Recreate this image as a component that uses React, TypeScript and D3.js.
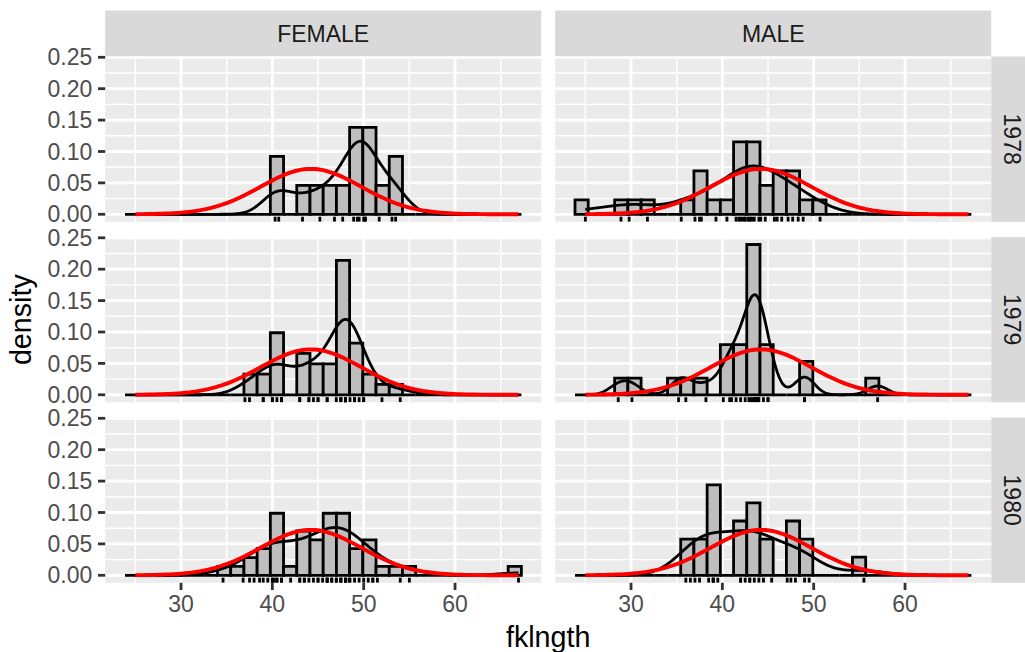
import React from "react";
import * as d3 from "d3";

const sexLabels = ["FEMALE", "MALE"];
const yearLabels = ["1978", "1979", "1980"];

const female1978 = [40.3, 40.7, 43.3, 45.2, 46.8, 47.7, 48.9, 49.3, 49.5, 50.0, 50.1, 50.2, 51.7, 53.1, 53.5];
const male1978 = [25.0, 28.9, 29.8, 31.8, 35.5, 37.0, 37.5, 37.7, 39.3, 40.5, 41.5, 41.8, 42.0, 42.3, 42.5, 42.8, 43.0, 43.2, 43.5, 44.0, 44.2, 44.7, 45.7, 46.0, 46.5, 47.2, 47.7, 48.3, 48.85, 50.7];
const female1979 = [37.0, 37.5, 39.0, 39.0, 40.0, 40.0, 40.5, 41.0, 41.0, 41.0, 43.0, 43.0, 44.0, 44.0, 44.5, 45.0, 45.0, 46.0, 46.0, 47.0, 47.5, 47.5, 47.5, 48.0, 48.0, 48.0, 48.0, 48.0, 48.0, 48.0, 48.0, 48.0, 48.0, 48.5, 49.0, 49.0, 49.0, 49.5, 50.0, 50.0, 52.0, 54.0];
const male1979 = [28.6, 30.1, 35.2, 36.0, 38.2, 40.1, 40.8, 41.0, 41.5, 42.0, 42.5, 42.9, 43.1, 43.3, 43.5, 43.6, 43.7, 43.8, 43.9, 44.0, 44.5, 45.0, 45.0, 49.0, 49.0, 57.0];
const female1980 = [34.6, 36.8, 37.5, 38.0, 38.6, 39.0, 39.5, 40.0, 40.0, 40.2, 40.5, 40.5, 41.0, 41.0, 42.0, 43.0, 43.0, 43.5, 43.5, 44.0, 44.5, 45.0, 45.0, 45.5, 46.0, 46.0, 46.0, 46.5, 46.5, 47.0, 47.0, 47.5, 47.5, 47.5, 48.0, 48.0, 48.0, 48.4, 48.5, 49.0, 49.5, 50.0, 50.5, 51.0, 51.0, 51.5, 54.0, 55.0, 66.95];
const male1980 = [36.0, 36.5, 37.0, 37.5, 38.5, 39.0, 39.0, 39.0, 39.5, 42.0, 42.0, 42.5, 43.0, 43.0, 43.5, 44.0, 44.5, 45.4, 47.1, 47.5, 48.0, 49.0, 49.5, 55.5];

const xMajor = [30, 40, 50, 60];
const xMinor = [25, 35, 45, 55, 65];
const yMajor = [0, 0.05, 0.1, 0.15, 0.2, 0.25];
const yMinor = [0.025, 0.075, 0.125, 0.175, 0.225];

const BINS = 30;
const KDE_N = 512;
const NORM_N = 101;

const LEFT = [105.2, 555.2];
const PW = 436;
const TOP = [56.5, 237, 417.5];
const PH = 165.3;
const STRIP = 46;
const K = 23 / 8.8; // px per pt
const LW = 1.07 * K;
const FONT = "'Liberation Sans', Arial, Helvetica, sans-serif";

function bwNrd0(x: number[]) {
  const s = [...x].sort((a, b) => a - b);
  const sd = d3.deviation(s) as number;
  const iqr = (d3.quantileSorted(s, 0.75) as number) - (d3.quantileSorted(s, 0.25) as number);
  let lo = Math.min(sd, iqr / 1.34);
  if (!(lo > 0)) lo = sd || Math.abs(s[0]) || 1;
  return 0.9 * lo * Math.pow(s.length, -0.2);
}

export default function App() {
  const panels = [
    [female1978, male1978],
    [female1979, male1979],
    [female1980, male1980],
  ];
  const all = panels.flat(2);
  const [mn, mx] = d3.extent(all) as [number, number];
  const w = (mx - mn) / (BINS - 1);
  const boundary = w / 2;
  const origin = boundary + Math.floor((mn - boundary) / w) * w;
  const edges = d3.range(BINS + 1).map((k) => origin + k * w);
  const mu = d3.mean(all) as number;
  const sigma = d3.deviation(all) as number;
  const dnorm = (x: number) => Math.exp(-0.5 * ((x - mu) / sigma) ** 2) / (sigma * Math.sqrt(2 * Math.PI));
  const normPts: [number, number][] = d3.range(NORM_N).map((i) => {
    const x = mn + (i * (mx - mn)) / (NORM_N - 1);
    return [x, dnorm(x)];
  });

  const binner = d3.bin().domain([edges[0], edges[BINS]]).thresholds(edges.slice(1, BINS));

  const stats = panels.map((row) =>
    row.map((vals) => {
      const n = vals.length;
      const bins = binner(vals).map((b) => ({ x0: b.x0 as number, x1: b.x1 as number, d: b.length / (n * w) }));
      const bw = bwNrd0(vals);
      const kde: [number, number][] = d3.range(KDE_N).map((i) => {
        const x = mn + (i * (mx - mn)) / (KDE_N - 1);
        let s = 0;
        for (const v of vals) s += Math.exp(-0.5 * ((x - v) / bw) ** 2);
        return [x, s / (n * bw * Math.sqrt(2 * Math.PI))];
      });
      return { vals, bins, kde };
    })
  );

  const yMax = Math.max(
    d3.max(stats.flat(), (p) => d3.max(p.bins, (b) => b.d) as number) as number,
    d3.max(stats.flat(), (p) => d3.max(p.kde, (k) => k[1]) as number) as number,
    d3.max(normPts, (p) => p[1]) as number
  );
  const xSpan = edges[BINS] - edges[0];
  const xDomain = [edges[0] - 0.05 * xSpan, edges[BINS] + 0.05 * xSpan];
  const yDomain = [-0.05 * yMax, 1.05 * yMax];

  const xs = LEFT.map((l) => d3.scaleLinear().domain(xDomain).range([l, l + PW]));
  const ys = TOP.map((t) => d3.scaleLinear().domain(yDomain).range([t + PH, t]));

  const tickLen = 2.75 * K;

  return (
    <svg
      width={1025}
      height={652}
      style={{ position: "absolute", left: 0, top: 0 }}
      fontFamily={FONT}
    >
      <rect x={0} y={0} width={1025} height={652} fill="#FFFFFF" />
      <defs>
        {TOP.map((t, r) =>
          LEFT.map((l, c) => (
            <clipPath id={`clip-${r}-${c}`} key={`cp-${r}-${c}`}>
              <rect x={l} y={t} width={PW} height={PH} />
            </clipPath>
          ))
        )}
      </defs>

      {/* top strips */}
      {LEFT.map((l, c) => (
        <g key={`ts-${c}`}>
          <rect x={l} y={TOP[0] - STRIP} width={PW} height={STRIP} fill="#D9D9D9" />
          <text x={l + PW / 2} y={TOP[0] - STRIP / 2 + 8.2} textAnchor="middle" fontSize={23} fill="#1A1A1A">
            {sexLabels[c]}
          </text>
        </g>
      ))}

      {/* right strips */}
      {TOP.map((t, r) => (
        <g key={`rs-${r}`}>
          <rect x={LEFT[1] + PW} y={t} width={STRIP} height={PH} fill="#D9D9D9" />
          <text
            transform={`translate(${LEFT[1] + PW + STRIP / 2 - 9.8},${t + PH / 2}) rotate(90)`}
            textAnchor="middle"
            fontSize={23}
            fill="#1A1A1A"
          >
            {yearLabels[r]}
          </text>
        </g>
      ))}

      {stats.map((row, r) =>
        row.map((p, c) => {
          const x = xs[c];
          const y = ys[r];
          const line = d3
            .line<[number, number]>()
            .x((d) => x(d[0]))
            .y((d) => y(d[1]));
          const t = TOP[r];
          const l = LEFT[c];
          return (
            <g key={`p-${r}-${c}`}>
              <rect x={l} y={t} width={PW} height={PH} fill="#EBEBEB" />
              <g clipPath={`url(#clip-${r}-${c})`}>
                {xMinor.map((v) => (
                  <line key={`xm${v}`} x1={x(v)} x2={x(v)} y1={t} y2={t + PH} stroke="#FFFFFF" strokeWidth={LW / 2} />
                ))}
                {yMinor.map((v) => (
                  <line key={`ym${v}`} x1={l} x2={l + PW} y1={y(v)} y2={y(v)} stroke="#FFFFFF" strokeWidth={LW / 2} />
                ))}
                {xMajor.map((v) => (
                  <line key={`xM${v}`} x1={x(v)} x2={x(v)} y1={t} y2={t + PH} stroke="#FFFFFF" strokeWidth={LW} />
                ))}
                {yMajor.map((v) => (
                  <line key={`yM${v}`} x1={l} x2={l + PW} y1={y(v)} y2={y(v)} stroke="#FFFFFF" strokeWidth={LW} />
                ))}
                {p.bins.map((b, i) => (
                  <path
                    key={`b${i}`}
                    d={`M${x(b.x0)},${y(0)}V${y(b.d)}H${x(b.x1)}V${y(0)}Z`}
                    fill="#BEBEBE"
                    stroke="#000000"
                    strokeWidth={LW}
                    strokeLinejoin="miter"
                  />
                ))}
                {p.vals.map((v, i) => (
                  <line
                    key={`r${i}`}
                    x1={x(v)}
                    x2={x(v)}
                    y1={t + PH}
                    y2={t + PH - 0.03 * PH}
                    stroke="#000000"
                    strokeWidth={LW}
                  />
                ))}
                <path d={line(p.kde) as string} fill="none" stroke="#000000" strokeWidth={LW} />
                <path d={line(normPts) as string} fill="none" stroke="#FF0000" strokeWidth={LW * 1.4} />
              </g>
            </g>
          );
        })
      )}

      {/* y axes */}
      {TOP.map((t, r) => (
        <g key={`ya-${r}`}>
          {yMajor.map((v, i) => (
            <g key={`yt${i}`}>
              <line x1={LEFT[0] - tickLen} x2={LEFT[0]} y1={ys[r](v)} y2={ys[r](v)} stroke="#333333" strokeWidth={LW} />
              <text x={LEFT[0] - tickLen - 2.2 * K} y={ys[r](v) + 8.2} textAnchor="end" fontSize={23} fill="#4D4D4D">
                {d3.format(".2f")(v)}
              </text>
            </g>
          ))}
        </g>
      ))}

      {/* x axes */}
      {LEFT.map((l, c) => (
        <g key={`xa-${c}`}>
          {xMajor.map((v) => (
            <g key={`xt${v}`}>
              <line
                x1={xs[c](v)}
                x2={xs[c](v)}
                y1={TOP[2] + PH}
                y2={TOP[2] + PH + tickLen}
                stroke="#333333"
                strokeWidth={LW}
              />
              <text x={xs[c](v)} y={TOP[2] + PH + tickLen + 2.2 * K + 16.6} textAnchor="middle" fontSize={23} fill="#4D4D4D">
                {String(v)}
              </text>
            </g>
          ))}
        </g>
      ))}

      <text x={(LEFT[0] + LEFT[1] + PW) / 2} y={647} textAnchor="middle" fontSize={28.7} fill="#000000">
        fklngth
      </text>
      <text
        transform={`translate(31,${(TOP[0] + TOP[2] + PH) / 2}) rotate(-90)`}
        textAnchor="middle"
        fontSize={28.7}
        fill="#000000"
      >
        density
      </text>
    </svg>
  );
}
